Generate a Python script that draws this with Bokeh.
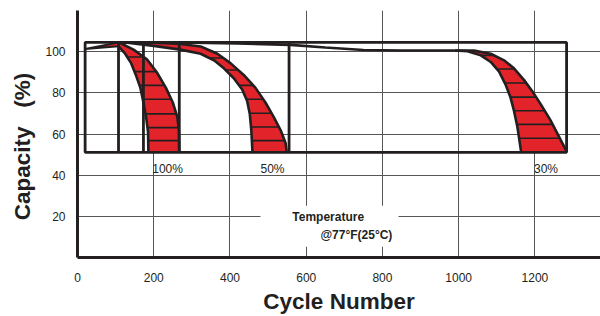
import numpy as np
from bokeh.plotting import figure
from bokeh.models import FixedTicker, Range1d
from bokeh.embed import file_html
from bokeh.resources import INLINE
from bokeh.core.properties import value

# ---------------- data ----------------
x_ticks = [0, 200, 400, 600, 800, 1000, 1200]
y_ticks = [20, 40, 60, 80, 100]

# test window (cycles, capacity %)
box_left, box_right = 20, 1283
box_bottom, box_top = 51.1, 104.5
box_dividers = [107.6, 173, 267, 555]

# common initial rise (wedge)
wedge_x = [20, 107.6, 107.6]
wedge_y = [101.3, 104.5, 102.6]

# 100% DOD band
d100_outer_x = [112, 147, 182, 208, 232, 250, 262, 266, 267]
d100_outer_y = [104.2, 101.0, 96.3, 90.0, 82.4, 75.3, 68.2, 61.8, 51.1]
d100_inner_x = [106, 125, 141, 153, 165, 173, 180, 185, 186]
d100_inner_y = [102.9, 99.0, 94.3, 88.7, 82.4, 75.3, 68.2, 61.1, 51.1]
d100_levels = [97.4, 90.3, 83.6, 76.9, 69.8, 63.1, 56.8]

# 50% DOD band
d50_outer_x = [131, 200, 270, 323, 367, 402, 436, 467, 493, 515, 533, 546, 549]
d50_outer_y = [104.4, 104.3, 103.7, 102.5, 99.0, 94.3, 88.7, 82.4, 75.3, 68.2, 61.8, 55.5, 51.1]
d50_inner_x = [131, 200, 270, 323, 358, 384, 410, 432, 445, 452, 456, 459]
d50_inner_y = [104.4, 102.8, 101.0, 99.0, 95.8, 91.9, 87.1, 81.6, 76.0, 69.7, 61.8, 51.1]
d50_levels = [96.9, 91.1, 83.6, 76.9, 70.1, 63.4, 56.8]

# 30% DOD curve and band
d30_line_x = [107.6, 300, 420, 559, 650, 750, 850, 990]
d30_line_y = [104.4, 104.3, 104.0, 103.3, 102.0, 100.8, 100.6, 100.6]
d30_outer_x = [990, 1040, 1084, 1119, 1145, 1171, 1193, 1215, 1241, 1263, 1281, 1283]
d30_outer_y = [100.6, 100.5, 99.0, 95.8, 91.9, 86.3, 80.8, 74.5, 66.6, 58.7, 52.3, 51.1]
d30_inner_x = [990, 1023, 1058, 1084, 1106, 1123, 1136, 1145, 1154, 1163, 1164]
d30_inner_y = [100.6, 100.2, 98.2, 95.0, 90.3, 84.0, 77.7, 71.3, 63.4, 52.3, 51.1]
d30_levels = [98.2, 91.6, 84.8, 77.9, 71.3, 64.7, 57.9]

dod_labels = ["100%", "50%", "30%"]
dod_label_x = [196, 480, 1197.6]
dod_label_y = [43.2, 43.2, 43.2]

temp_lines = ["Temperature", "@77\u00b0F(25\u00b0C)"]
temp_box = (480, 842, 5.2, 25.1)

RED = "#E2242A"
BLACK = "#231F20"
GRID = "#555555"

p = figure(width=600, height=316, x_range=Range1d(0, 1372), y_range=Range1d(0, 120),
           output_backend="svg", toolbar_location=None,
           min_border_left=77, min_border_right=0, min_border_top=10, min_border_bottom=53)
p.outline_line_color = None
p.background_fill_color = "white"
p.border_fill_color = "white"

p.xaxis.ticker = FixedTicker(ticks=x_ticks)
p.yaxis.ticker = FixedTicker(ticks=y_ticks)
p.xgrid.ticker = FixedTicker(ticks=x_ticks)
p.ygrid.ticker = FixedTicker(ticks=y_ticks)
p.grid.grid_line_color = GRID
p.grid.grid_line_width = 1

for ax in (p.xaxis, p.yaxis):
    ax.axis_line_width = 3
    ax.axis_line_color = BLACK
    ax.major_tick_line_color = None
    ax.minor_tick_line_color = None
    ax.major_tick_out = 0
    ax.major_tick_in = 0
    ax.major_label_text_font = "Liberation Sans"
    ax.major_label_text_font_size = "12px"
    ax.major_label_text_color = BLACK
    ax.axis_label_text_font = "Liberation Sans"
    ax.axis_label_text_font_size = "22.5px"
    ax.axis_label_text_font_style = "bold"
    ax.axis_label_text_color = BLACK
p.yaxis.major_label_standoff = 12
p.xaxis.major_label_standoff = 15
p.xaxis.axis_label = "Cycle Number"
p.xaxis.axis_label_standoff = 4
p.yaxis.axis_label = "Capacity\u00a0\u00a0\u00a0(%)" + "\u00a0" * 4
p.yaxis.axis_label_standoff = 7

# temperature white box
p.quad(left=[temp_box[0]], right=[temp_box[1]], bottom=[temp_box[2]], top=[temp_box[3]],
       fill_color="white", line_color=None)


def band(outer_x, outer_y, inner_x, inner_y, levels):
    px = list(outer_x) + list(inner_x)[::-1]
    py = list(outer_y) + list(inner_y)[::-1]
    p.patch(px, py, fill_color=RED, line_color=None)
    lv = np.array(levels)
    xo = np.interp(lv, np.array(outer_y)[::-1], np.array(outer_x)[::-1])
    xi = np.interp(lv, np.array(inner_y)[::-1], np.array(inner_x)[::-1])
    p.segment(x0=xi, y0=lv, x1=xo, y1=lv, line_color=BLACK, line_width=1.6)
    p.line(outer_x, outer_y, line_color=BLACK, line_width=2.6)
    p.line(inner_x, inner_y, line_color=BLACK, line_width=2.6)


p.patch(wedge_x, wedge_y, fill_color=RED, line_color=BLACK, line_width=2)
band(d100_outer_x, d100_outer_y, d100_inner_x, d100_inner_y, d100_levels)
band(d50_outer_x, d50_outer_y, d50_inner_x, d50_inner_y, d50_levels)
band(d30_outer_x, d30_outer_y, d30_inner_x, d30_inner_y, d30_levels)
p.line(d30_line_x, d30_line_y, line_color=BLACK, line_width=2.6)

# boxes
p.quad(left=[box_left], right=[box_right], bottom=[box_bottom], top=[box_top],
       fill_color=None, line_color=BLACK, line_width=2.8)
p.segment(x0=box_dividers, y0=[box_bottom] * len(box_dividers),
          x1=box_dividers, y1=[box_top] * len(box_dividers),
          line_color=BLACK, line_width=2.8)

p.text(x=dod_label_x, y=dod_label_y, text=dod_labels, text_font=value("Liberation Sans"),
       text_font_size="12px", text_color=BLACK, text_baseline="middle", text_align="left")

p.text(x=[563.5], y=[19.9], text=[temp_lines[0]], text_font=value("Liberation Sans"),
       text_font_size="12px", text_font_style="bold", text_color=BLACK,
       text_baseline="middle", text_align="left")
p.text(x=[826], y=[10.8], text=[temp_lines[1]], text_font=value("Liberation Sans"),
       text_font_size="12px", text_font_style="bold", text_color=BLACK,
       text_baseline="middle", text_align="right")

open("out.html", "w").write(file_html(p, INLINE))
